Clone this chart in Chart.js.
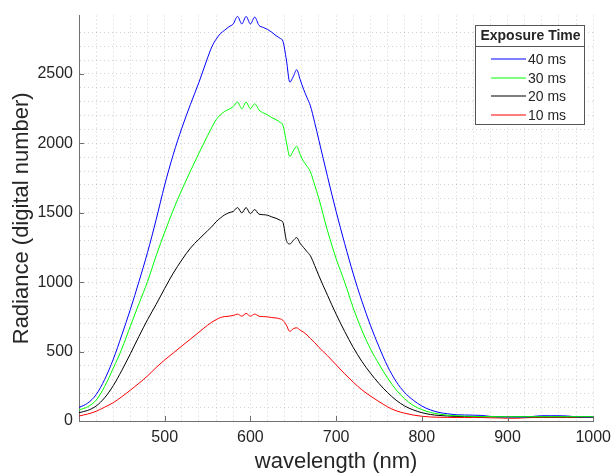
<!DOCTYPE html>
<html>
<head>
<meta charset="utf-8">
<script src="https://cdn.jsdelivr.net/npm/chart.js@4"></script>
<style>
  html, body { margin: 0; padding: 0; background: #fff; }
  #wrap { width: 611px; height: 475px; }
</style>
</head>
<body>
<div id="wrap"><canvas id="myChart" width="611" height="475"></canvas></div>
<script>
// setup
const wavelengths = [400, 410, 420, 430, 440, 450, 460, 470, 480, 490,
  500, 510, 520, 530, 540, 550, 555, 560, 565, 570,
  575, 580, 585, 590, 595, 600, 605, 610, 615, 620,
  625, 630, 635, 638, 642, 646, 650, 654, 658, 662,
  666, 670, 675, 680, 690, 700, 710, 720, 730, 740,
  750, 760, 770, 780, 790, 800, 810, 820, 830, 840,
  850, 860, 870, 880, 890, 900, 910, 920, 930, 940,
  950, 960, 970, 980, 990, 1000];

const ms40 = [98, 128, 190, 300, 445, 620, 805, 1005, 1215, 1450,
  1700, 1920, 2110, 2280, 2440, 2615, 2695, 2750, 2790, 2815,
  2840, 2860, 2914, 2860, 2914, 2860, 2909, 2850, 2835, 2820,
  2800, 2775, 2755, 2735, 2600, 2441, 2480, 2530, 2460, 2390,
  2330, 2270, 2150, 2020, 1760, 1510, 1278, 1060, 865, 690,
  535, 395, 285, 205, 150, 108, 80, 62, 52, 45,
  43, 42, 40, 33, 31, 30, 29, 29, 33, 38,
  38, 38, 36, 30, 29, 29];

const ms30 = [80, 102, 150, 250, 380, 520, 685, 845, 1005, 1190,
  1360, 1520, 1665, 1800, 1930, 2055, 2115, 2170, 2205, 2230,
  2245, 2265, 2297, 2249, 2297, 2249, 2285, 2240, 2220, 2205,
  2185, 2170, 2150, 2130, 2010, 1905, 1945, 1978, 1920, 1870,
  1835, 1795, 1700, 1600, 1370, 1170, 1000, 815, 655, 520,
  410, 310, 225, 160, 112, 82, 62, 50, 42, 38,
  35, 33, 32, 32, 31, 31, 31, 31, 31, 31,
  31, 31, 31, 31, 31, 31];

const ms20 = [60, 76, 108, 168, 255, 365, 485, 610, 730, 840,
  955, 1065, 1160, 1245, 1310, 1370, 1400, 1435, 1462, 1485,
  1500, 1510, 1537, 1499, 1537, 1494, 1523, 1490, 1486, 1482,
  1470, 1460, 1445, 1430, 1300, 1275, 1300, 1321, 1280, 1250,
  1220, 1190, 1120, 1045, 905, 770, 645, 530, 430, 345,
  270, 205, 150, 108, 80, 60, 47, 40, 36, 33,
  32, 32, 31, 31, 30, 30, 30, 30, 30, 30,
  30, 30, 30, 30, 30, 30];

const ms10 = [36, 50, 70, 100, 132, 175, 222, 272, 325, 385,
  440, 490, 540, 590, 640, 690, 712, 730, 745, 752,
  755, 760, 770, 755, 775, 755, 770, 755, 752, 750,
  745, 742, 735, 725, 690, 645, 665, 671, 655, 640,
  620, 595, 565, 530, 470, 405, 340, 280, 225, 180,
  140, 102, 74, 56, 43, 34, 29, 27, 26, 25,
  25, 25, 25, 23, 22, 20, 20, 23, 25, 25,
  25, 25, 25, 25, 25, 25];

const seriesLabels = ['40 ms', '30 ms', '20 ms', '10 ms'];
const seriesColors = ['#0000ff', '#00ff00', '#000000', '#ff0000'];
const legendTitle = 'Exposure Time';
const yTicks = [0, 500, 1000, 1500, 2000, 2500];
const xTicks = [500, 600, 700, 800, 900, 1000];

const FONT = '"Liberation Sans", Arial, Helvetica, sans-serif';
const AXIS_COLOR = '#707070';
const TEXT_COLOR = '#262626';

function pts(arr) {
  return wavelengths.map((w, i) => ({ x: w, y: arr[i] }));
}

const allSeries = [ms40, ms30, ms20, ms10];
const drawOrder = [2, 1, 3, 4];

const data = {
  datasets: allSeries.map((s, i) => ({
    label: seriesLabels[i],
    data: pts(s),
    borderColor: seriesColors[i],
    backgroundColor: seriesColors[i],
    borderWidth: 1,
    pointRadius: 0,
    cubicInterpolationMode: 'monotone',
    order: drawOrder[i]
  }))
};

// inward tick marks like the matlab axes
const tickMarks = {
  id: 'tickMarks',
  afterDatasetsDraw(chart) {
    const ctx = chart.ctx;
    const xs = chart.scales.x, ys = chart.scales.y;
    const a = chart.chartArea;
    ctx.save();
    ctx.strokeStyle = AXIS_COLOR;
    ctx.lineWidth = 1;
    ctx.beginPath();
    yTicks.forEach(v => {
      const y = Math.round(ys.getPixelForValue(v)) + 0.5;
      ctx.moveTo(a.left, y);
      ctx.lineTo(a.left + 5, y);
    });
    xTicks.forEach(v => {
      const x = Math.round(xs.getPixelForValue(v)) + 0.5;
      ctx.moveTo(x, a.bottom);
      ctx.lineTo(x, a.bottom - 5);
    });
    ctx.stroke();
    ctx.restore();
  }
};

// boxed legend with a title, top right inside the axes
const boxLegend = {
  id: 'boxLegend',
  afterDraw(chart) {
    const ctx = chart.ctx;
    const a = chart.chartArea;
    const w = 109, h = 99;
    const left = Math.round(a.right) - 9 - w, top = Math.round(a.top) + 9;
    ctx.save();
    ctx.fillStyle = '#fff';
    ctx.fillRect(left, top, w, h);
    ctx.strokeStyle = '#555';
    ctx.lineWidth = 1;
    ctx.strokeRect(left + 0.5, top + 0.5, w, h);
    ctx.beginPath();
    ctx.moveTo(left, top + 21.5);
    ctx.lineTo(left + w, top + 21.5);
    ctx.stroke();
    ctx.fillStyle = TEXT_COLOR;
    ctx.font = 'bold 14px ' + FONT;
    ctx.textAlign = 'center';
    ctx.textBaseline = 'middle';
    ctx.fillText(legendTitle, left + w / 2 + 1, top + 11);
    ctx.font = '14px ' + FONT;
    ctx.textAlign = 'left';
    seriesLabels.forEach((lab, i) => {
      const y = Math.round(top + 34 + i * 18.6);
      ctx.beginPath();
      ctx.strokeStyle = seriesColors[i];
      ctx.lineWidth = 1.2;
      ctx.moveTo(left + 16, y);
      ctx.lineTo(left + 51, y);
      ctx.stroke();
      ctx.fillStyle = TEXT_COLOR;
      ctx.fillText(lab, left + 53, y + 1);
    });
    ctx.restore();
  }
};

const gridStyle = (step) => ({
  drawTicks: false,
  color: (c) => (c.tick && c.tick.value % step === 0) ? 'rgba(0,0,0,0.18)' : 'rgba(0,0,0,0)',
  lineWidth: 1
});

// config
const config = {
  type: 'line',
  data,
  options: {
    responsive: false,
    animation: false,
    layout: { padding: { top: 15, right: 17, left: 0, bottom: 0 } },
    plugins: {
      legend: { display: false },
      tooltip: { enabled: false }
    },
    scales: {
      x: {
        type: 'linear',
        min: 400,
        max: 1000,
        afterFit: (s) => { s.height = 54; },
        ticks: {
          stepSize: 20,
          autoSkip: false,
          maxRotation: 0,
          padding: 0,
          color: TEXT_COLOR,
          font: { family: FONT, size: 16, lineHeight: 2.1 },
          callback: (v) => (v % 100 === 0 && v !== 400) ? String(v) : ''
        },
        grid: gridStyle(20),
        border: { display: true, color: AXIS_COLOR, width: 1, dash: [1, 3] },
        title: {
          display: true,
          text: 'wavelength (nm)',
          color: TEXT_COLOR,
          font: { family: FONT, size: 22 },
          padding: { top: 0, bottom: 0 }
        }
      },
      y: {
        type: 'linear',
        min: 0,
        max: 2920,
        afterFit: (s) => { s.width = 79; },
        ticks: {
          stepSize: 100,
          autoSkip: false,
          padding: 6,
          color: TEXT_COLOR,
          font: { family: FONT, size: 16 },
          callback: (v) => (v % 500 === 0) ? String(v) : ''
        },
        grid: gridStyle(100),
        border: { display: true, color: AXIS_COLOR, width: 1, dash: [1, 3] },
        title: {
          display: true,
          text: 'Radiance (digital number)',
          color: TEXT_COLOR,
          font: { family: FONT, size: 22 },
          padding: { top: 9, bottom: 0 }
        }
      }
    }
  },
  plugins: [tickMarks, boxLegend]
};

// render init block
const myChart = new Chart(document.getElementById('myChart'), config);
</script>
</body>
</html>
